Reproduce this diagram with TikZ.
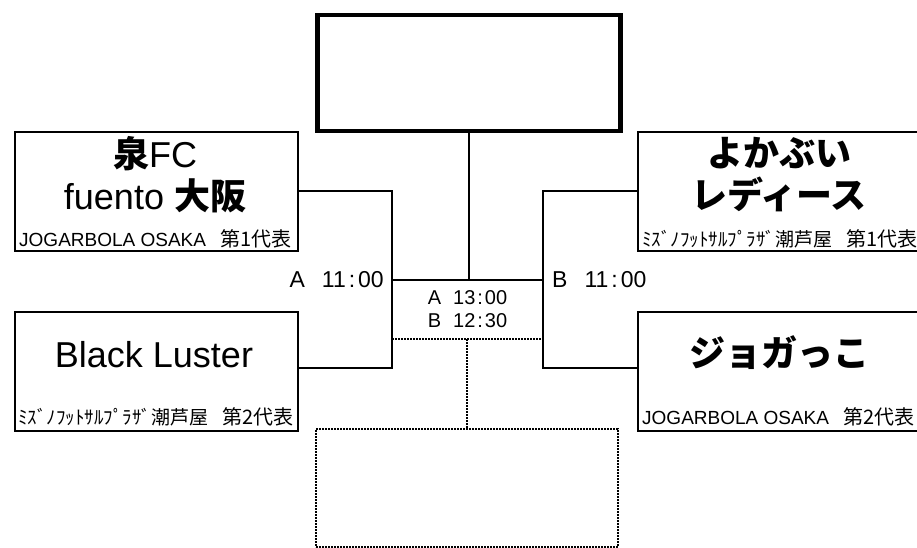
\documentclass[tikz,border=0pt]{standalone}
\usepackage{fontspec}
\setmainfont{Liberation Sans}
\newfontfamily\jp{Noto Sans CJK JP}
\newcommand\cln{\kern3pt:\kern3pt}
\begin{document}
\begin{tikzpicture}[x=1pt,y=-1pt,
  team/.style={draw, line width=2pt, minimum width=283pt, minimum height=119pt, inner sep=0pt, anchor=north west},
  winbox/.style={draw, line width=4.5pt, minimum width=303pt, minimum height=116pt, inner sep=0pt, anchor=north west},
  dotline/.style={line width=2pt, dash pattern=on 2pt off 1pt},
  link/.style={line width=2pt},
  bigname/.style={align=center, inner sep=0pt, font=\fontsize{36}{42}\selectfont},
  jpname/.style={align=center, inner sep=0pt, font=\fontsize{36}{42}\selectfont\jp\bfseries},
  small/.style={anchor=west, inner sep=0pt, font=\fontsize{19}{22}\selectfont},
  timelbl/.style={inner sep=0pt, font=\fontsize{23}{26}\selectfont}
]
\useasboundingbox (0,0) rectangle (917,547);
\clip (0,0) rectangle (917,547);
% boxes
\node[winbox] (top) at (315,12.5) {};
\node[team] (tl) at (14,131) {};
\node[team] (bl) at (14,310.5) {};
\node[team] (tr) at (637,131) {};
\node[team] (br) at (637,310.5) {};
\node[draw, dotline, minimum width=302pt, minimum height=118pt, inner sep=0pt, anchor=north west] (bot) at (315,428) {};
% names
\node[bigname] (n1) at (155,175) {{\jp\bfseries 泉}FC\\fuento {\jp\bfseries 大阪}};
\node[bigname] (n2) at (154,355) {Black Luster};
\node[jpname] (n3) at (779,175) {よかぶい\\レディース};
\node[jpname] (n4) at (779,353) {ジョガっこ};
% small lines
\node[small] (s1) at (19,239) {JOGARBOLA OSAKA\hspace{14pt}{\jp\fontsize{20}{22}\selectfont 第1代表}};
\node[small] (s2) at (18,417) {\jp ﾐｽﾞﾉﾌｯﾄｻﾙﾌﾟﾗｻﾞ潮芦屋\hspace{14pt}{\fontsize{20}{22}\selectfont 第2代表}};
\node[small] (s3) at (642,239) {\jp ﾐｽﾞﾉﾌｯﾄｻﾙﾌﾟﾗｻﾞ潮芦屋\hspace{14pt}{\fontsize{20}{22}\selectfont 第1代表}};
\node[small] (s4) at (642,417) {JOGARBOLA OSAKA\hspace{14pt}{\jp\fontsize{20}{22}\selectfont 第2代表}};
% junctions
\coordinate (jA) at (392,280);
\coordinate (jB) at (542.5,280);
\coordinate (dA) at (392,339);
\coordinate (dB) at (542.5,339);
\coordinate (dM) at (467,339);
% connectors
\draw[link] (tl.east |- 0,191) -| (jA) |- (bl.east |- 0,368);
\draw[link] (tr.west |- 0,191) -| (jB) |- (br.west |- 0,368);
\draw[link] (jA) -- (jB);
\draw[link] (top.south) -- (top.south |- jA);
\draw[dotline] (dA) -- (dB);
\draw[dotline] (dM) -- (bot.north);
% labels
\node[timelbl, anchor=east] (la) at (384,280) {A\hspace{17pt}11\cln 00};
\node[timelbl, anchor=west] (lb) at (552,280) {B\hspace{17pt}11\cln 00};
\node[align=center, inner sep=0pt, font=\fontsize{20}{23}\selectfont] (lc) at (467.5,309.5) {A\hspace{12pt}13\kern2pt:\kern2pt00\\B\hspace{12pt}12\kern2pt:\kern2pt30};
\end{tikzpicture}
\end{document}
